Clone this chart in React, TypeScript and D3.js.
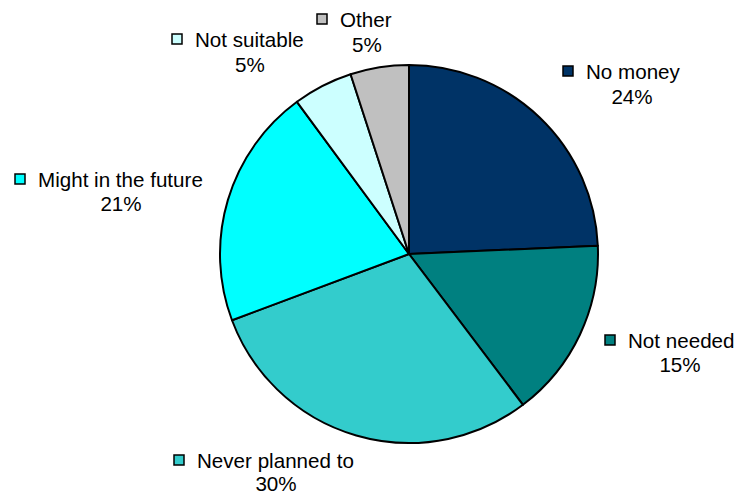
import React from "react";
import * as d3 from "d3";

const categories = ["No money", "Not needed", "Never planned to", "Might in the future", "Not suitable", "Other"];
const values = [24.3, 15.4, 29.6, 20.6, 5.1, 5.0];
const percentLabels = ["24%", "15%", "30%", "21%", "5%", "5%"];
const colors = ["#003366", "#008080", "#33CCCC", "#00FFFF", "#CCFFFF", "#C0C0C0"];

// layout: label text start x, first baseline, percent center x, second baseline
const labelLayout = [
  { tx: 586, ty: 79, px: 632, py: 104 },
  { tx: 628, ty: 348, px: 680, py: 372 },
  { tx: 197, ty: 468, px: 276, py: 491 },
  { tx: 38, ty: 187, px: 121, py: 211 },
  { tx: 195, ty: 47, px: 250, py: 72 },
  { tx: 340, ty: 27, px: 367, py: 52 },
];

const W = 738;
const H = 494;
const CX = 409;
const CY = 254;
const R = 189;

export default function App() {
  const pie = d3.pie<number>().sort(null).value((d) => d);
  const arcs = pie(values);
  const arc = d3.arc<d3.PieArcDatum<number>>().innerRadius(0).outerRadius(R);
  const font = "'Liberation Sans', Arial, Helvetica, sans-serif";
  return (
    <svg
      width={W}
      height={H}
      style={{ position: "absolute", left: 0, top: 0, display: "block", background: "#fff" }}
    >
      <g transform={`translate(${CX},${CY})`}>
        {arcs.map((a, i) => (
          <path key={i} d={arc(a) || ""} fill={colors[i]} stroke="#000" strokeWidth={2} strokeLinejoin="round" />
        ))}
      </g>
      {categories.map((c, i) => {
        const l = labelLayout[i];
        return (
          <g key={c} fontFamily={font} fontSize={20.6} fill="#000">
            <rect x={l.tx - 23} y={l.ty - 13} width={10} height={10} fill={colors[i]} stroke="#000" strokeWidth={1.5} />
            <text x={l.tx} y={l.ty}>{c}</text>
            <text x={l.px} y={l.py} textAnchor="middle">{percentLabels[i]}</text>
          </g>
        );
      })}
    </svg>
  );
}
